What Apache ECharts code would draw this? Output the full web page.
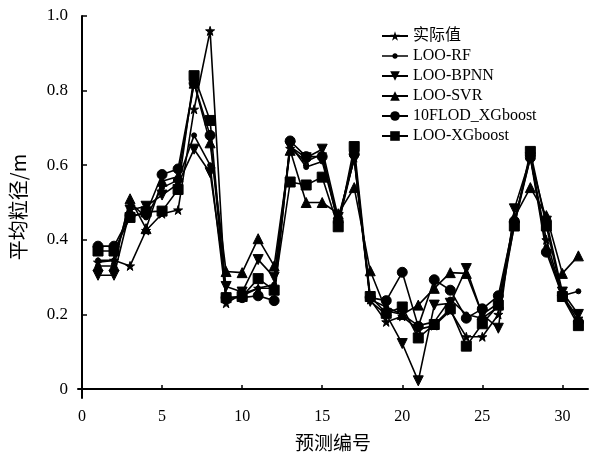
<!DOCTYPE html>
<html><head><meta charset="utf-8">
<script src="https://cdn.jsdelivr.net/npm/echarts@6/dist/echarts.min.js"></script>
<style>html,body{margin:0;padding:0;background:#fff}#c{width:590px;height:457px}</style>
</head><body><div id="c"></div>
<script>
const xIdx = [1,2,3,4,5,6,7,8,9,10,11,12,13,14,15,16,17,18,19,20,21,22,23,24,25,26,27,28,29,30,31];
const seriesNames = ['实际值','LOO-RF','LOO-BPNN','LOO-SVR','10FLOD_XGboost','LOO-XGboost'];
const actual  = [0.34,0.345,0.33,0.425,0.47,0.48,0.75,0.96,0.23,0.255,0.27,0.27,0.645,0.61,0.63,0.44,0.62,0.24,0.18,0.195,0.16,0.17,0.21,0.14,0.14,0.2,0.44,0.62,0.4,0.25,0.19];
const looRF   = [0.345,0.345,0.5,0.46,0.54,0.56,0.68,0.6,0.24,0.25,0.27,0.28,0.655,0.595,0.61,0.45,0.62,0.24,0.22,0.2,0.17,0.18,0.24,0.2,0.19,0.22,0.45,0.625,0.38,0.25,0.262];
const looBP   = [0.305,0.305,0.48,0.49,0.52,0.55,0.643,0.58,0.275,0.26,0.347,0.3,0.65,0.62,0.643,0.46,0.615,0.235,0.2,0.122,0.022,0.225,0.23,0.323,0.2,0.163,0.483,0.62,0.45,0.26,0.2];
const looSVR  = [0.33,0.33,0.51,0.43,0.557,0.57,0.82,0.66,0.315,0.312,0.403,0.33,0.64,0.5,0.5,0.47,0.54,0.317,0.21,0.2,0.225,0.27,0.312,0.31,0.2,0.23,0.46,0.54,0.465,0.31,0.357];
const flodXG  = [0.383,0.383,0.465,0.47,0.575,0.59,0.82,0.68,0.245,0.245,0.25,0.237,0.665,0.623,0.623,0.45,0.63,0.245,0.237,0.313,0.168,0.293,0.265,0.19,0.215,0.25,0.45,0.62,0.367,0.25,0.18];
const looXG   = [0.37,0.37,0.46,0.475,0.477,0.535,0.84,0.72,0.245,0.248,0.296,0.265,0.555,0.547,0.568,0.435,0.65,0.248,0.203,0.22,0.137,0.173,0.215,0.115,0.175,0.225,0.437,0.637,0.437,0.248,0.17];
const yTicks = [0,0.2,0.4,0.6,0.8,1.0];
const xTicks = [0,5,10,15,20,25,30];

const star = 'path://M1,0 L1.2245,0.691 L1.951,0.691 L1.363,1.118 L1.588,1.809 L1,1.382 L0.412,1.809 L0.637,1.118 L0.049,0.691 L0.7755,0.691 Z';
const symbols = [star,'circle','path://M0,0 L2,0 L1,1.7 Z','triangle','circle','rect'];
const sizes = [9,5,10,10,10,10];
const data = [actual,looRF,looBP,looSVR,flodXG,looXG];
const serif = '"Liberation Serif","DejaVu Serif",serif';

// legend icon for LOO-RF: line + small dot, drawn inside a 26x12 box
function lineDotIcon(){
  let p = 'path://M0,0 L0.01,0 L0,0.01 Z M26,12 L25.99,12 L26,11.99 Z M0,5.3 L26,5.3 L26,6.7 L0,6.7 Z M';
  const pts=[];
  for(let k=0;k<16;k++){const a=k/16*Math.PI*2;pts.push((13+2.7*Math.cos(a)).toFixed(3)+','+(6+2.7*Math.sin(a)).toFixed(3));}
  return p+pts.join(' L')+' Z';
}
const legendData = seriesNames.map((n,i)=> i===1 ? {name:n, icon:lineDotIcon()} : {name:n});

const chart = echarts.init(document.getElementById('c'));
chart.setOption({
  animation:false,
  backgroundColor:'#fff',
  grid:{left:78,right:2,top:16,bottom:57},
  legend:{
    orient:'vertical', left:376, top:23, itemGap:4, itemWidth:26, itemHeight:12,
    textStyle:{fontFamily:serif+',"Noto Sans CJK SC"',fontSize:16,color:'#000'},
    data:legendData
  },
  xAxis:{
    type:'value', min:-0.25, max:31.6,
    name:'预测编号', nameLocation:'middle', nameGap:35,
    nameTextStyle:{fontFamily:'"Noto Sans CJK SC"',fontSize:19,color:'#000'},
    axisLine:{lineStyle:{color:'#000',width:2}},
    axisTick:{inside:true,length:4,customValues:xTicks,lineStyle:{color:'#000',width:1.5}},
    axisLabel:{customValues:xTicks,fontFamily:serif,fontSize:16,color:'#000',margin:11},
    splitLine:{show:false}
  },
  yAxis:{
    type:'value', min:-0.024, max:1.0,
    name:'平均粒径/m', nameLocation:'middle', nameGap:50, nameRotate:90,
    nameTextStyle:{fontFamily:'"Noto Sans CJK SC"',fontSize:20,color:'#000'},
    axisLine:{lineStyle:{color:'#000',width:2}},
    axisTick:{inside:true,length:5,customValues:yTicks,lineStyle:{color:'#000',width:1.5}},
    axisLabel:{customValues:yTicks,fontFamily:serif,fontSize:17,color:'#000',margin:10,
      formatter:v=> v===0?'0':v.toFixed(1)},
    splitLine:{show:false}
  },
  series: seriesNames.map((n,i)=>({
    name:n, type:'line',
    data: xIdx.map((x,j)=>[x,data[i][j]]),
    symbol:symbols[i], symbolSize:sizes[i], showSymbol:true,
    lineStyle:{color:'#000',width:1.6},
    itemStyle:{color:'#000',borderColor:'#000'},
    z:2+i
  }))
});
</script></body></html>
